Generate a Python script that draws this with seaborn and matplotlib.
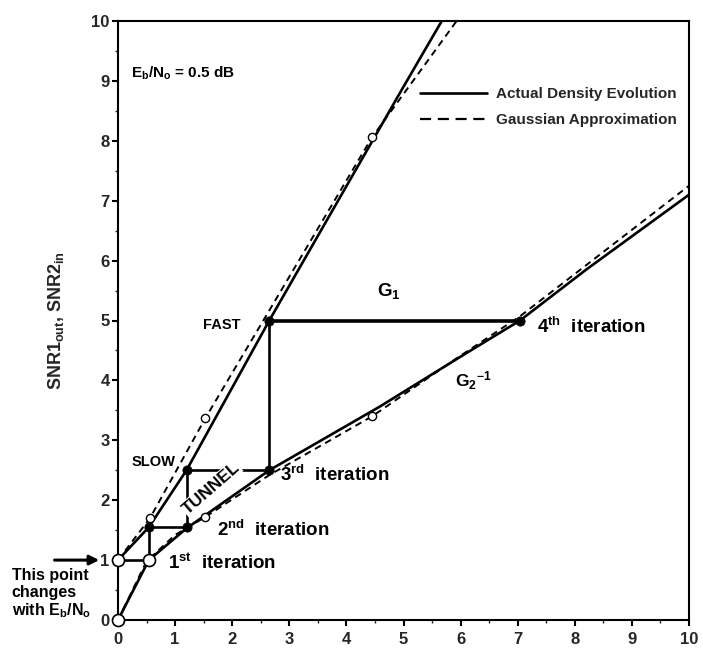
import numpy as np
import pandas as pd
import matplotlib
matplotlib.use("Agg")
import matplotlib.pyplot as plt
from matplotlib.lines import Line2D
from matplotlib.ticker import MultipleLocator
import seaborn as sns

# ---- transfer characteristics (SNR_in -> SNR_out) ----
g1_actual_x = [0.0, 0.54, 1.2, 2.65, 4.98, 5.67]
g1_actual_y = [1.0, 1.55, 2.5, 5.0, 8.87, 10.0]
g1_gauss_x = [0.0, 0.56, 1.53, 4.45, 5.93]
g1_gauss_y = [1.0, 1.7, 3.37, 8.06, 10.0]
g2inv_actual_x = [0.0, 0.54, 1.2, 2.65, 4.58, 6.04, 7.04, 8.2, 10.0]
g2inv_actual_y = [0.0, 1.0, 1.53, 2.5, 3.56, 4.42, 5.0, 5.85, 7.1]
g2inv_gauss_x = [0.0, 0.5, 1.0, 1.53, 2.65, 4.45, 5.9, 7.04, 10.0]
g2inv_gauss_y = [0.0, 0.98, 1.42, 1.72, 2.42, 3.4, 4.35, 5.07, 7.25]

# sample points marked on the Gaussian-approximation curves
gauss_mark_x = [0.56, 1.53, 4.45, 1.53, 4.45]
gauss_mark_y = [1.7, 3.37, 8.06, 1.72, 3.4]

# decoding trajectory (staircase between the two curves)
iter_x = [0.0, 0.54, 0.54, 1.2, 1.2, 2.65, 2.65, 7.04]
iter_y = [1.0, 1.0, 1.55, 1.55, 2.5, 2.5, 5.0, 5.0]
start_x = [0.0, 0.0, 0.54]
start_y = [0.0, 1.0, 1.0]
step_x = [0.54, 1.2, 1.2, 2.65, 2.65, 7.04]
step_y = [1.55, 1.55, 2.5, 2.5, 5.0, 5.0]

x_ticks = list(range(0, 11))
y_ticks = list(range(0, 11))

sns.set_theme(style="ticks")
plt.rcParams["font.family"] = ["Liberation Sans", "DejaVu Sans"]
plt.rcParams["font.weight"] = "bold"
plt.rcParams["mathtext.fontset"] = "custom"
plt.rcParams["mathtext.rm"] = "Liberation Sans:bold"
plt.rcParams["mathtext.it"] = "Liberation Sans:bold"
plt.rcParams["mathtext.bf"] = "Liberation Sans:bold"
plt.rcParams["mathtext.default"] = "bf"

curves = []
for name, method, xs, ys in [
    ("G1", "Actual", g1_actual_x, g1_actual_y),
    ("G1", "Gaussian", g1_gauss_x, g1_gauss_y),
    ("G2inv", "Actual", g2inv_actual_x, g2inv_actual_y),
    ("G2inv", "Gaussian", g2inv_gauss_x, g2inv_gauss_y),
]:
    curves.append(pd.DataFrame({"x": xs, "y": ys, "curve": name, "method": method,
                                "id": name + method}))
df = pd.concat(curves, ignore_index=True)

fig = plt.figure(figsize=(7.03, 6.49), dpi=100)
ax = fig.add_axes([118 / 703, 1 - 620 / 649, 571 / 703, 599 / 649])

sns.lineplot(data=df[df.method == "Actual"], x="x", y="y", units="id", estimator=None,
             sort=False, color="black", lw=1.9, ax=ax, legend=False)
sns.lineplot(data=df[df.method == "Gaussian"], x="x", y="y", units="id", estimator=None,
             sort=False, color="black", lw=1.4, ax=ax, legend=False)
for ln in ax.lines[-2:]:
    ln.set_dashes((3.5, 2.5))

# trajectory
ax.plot(iter_x[:-1], iter_y[:-1], color="black", lw=1.9, zorder=3)
ax.plot(iter_x[-2:], iter_y[-2:], color="black", lw=2.6, zorder=3)

sns.scatterplot(x=gauss_mark_x, y=gauss_mark_y, s=35, facecolor="white",
                edgecolor="black", linewidth=1.0, ax=ax, zorder=4)
sns.scatterplot(x=step_x, y=step_y, s=45, color="black", edgecolor="black",
                linewidth=0.5, ax=ax, zorder=5)
ax.scatter(start_x, start_y, s=75, facecolor="white", edgecolor="black",
           linewidth=1.2, zorder=6, clip_on=False)

ax.set_xlim(0, 10)
ax.set_ylim(0, 10)
ax.set_xticks(x_ticks)
ax.set_yticks(y_ticks)
ax.xaxis.set_minor_locator(MultipleLocator(0.5))
ax.yaxis.set_minor_locator(MultipleLocator(0.5))
ax.tick_params(which="major", direction="out", length=4, width=1.5,
               labelsize=12, color="black")
ax.tick_params(axis="x", which="major", pad=5)
ax.tick_params(axis="y", which="major", pad=2)
ax.tick_params(which="minor", direction="out", length=2.5, width=1.0)
for lab in ax.get_xticklabels() + ax.get_yticklabels():
    lab.set_fontweight("bold")
for sp in ax.spines.values():
    sp.set_visible(True)
    sp.set_linewidth(1.5)
    sp.set_color("black")

ax.set_xlabel("")
ax.set_ylabel(r"SNR1$_{out}$, SNR2$_{in}$", fontsize=13, fontweight="bold")
ax.yaxis.set_label_coords(-0.091, 0.5)

# legend
handles = [Line2D([], [], color="black", lw=1.9),
           Line2D([], [], color="black", lw=1.6, dashes=(5, 3))]
ax.legend(handles, ["Actual Density Evolution", "Gaussian Approximation"],
          loc="upper left", bbox_to_anchor=(0.529, 0.889), frameon=False,
          borderpad=0, borderaxespad=0, handlelength=4.4, handletextpad=0.6,
          labelspacing=0.75, prop={"weight": "bold", "size": 11})

# annotations
tk = dict(fontweight="bold", color="black")
ax.text(0.23, 9.13, r"E$_b$/N$_o$ = 0.5 dB", fontsize=11, va="center", ha="left", **tk)
ax.text(4.75, 5.5, r"G$_1$", fontsize=13.5, ha="center", va="center", **tk)
ax.text(5.9, 4.0, r"G$_2$$^{-1}$", fontsize=12.5, ha="left", va="center", **tk)
ax.text(2.14, 4.93, "FAST", fontsize=10.5, ha="right", va="center", **tk)
ax.text(1.0, 2.64, "SLOW", fontsize=10.5, ha="right", va="center", **tk)
ax.text(1.63, 2.2, "TUNNEL", fontsize=12.5, ha="center", va="center", rotation=41,
        bbox=dict(facecolor="white", edgecolor="none", pad=0.5), zorder=7, **tk)
it_fs = 13.5
ax.text(0.88, 0.95, r"1$^{st}$  iteration", fontsize=it_fs, ha="left", va="center", **tk)
ax.text(1.73, 1.5, r"2$^{nd}$  iteration", fontsize=it_fs, ha="left", va="center", **tk)
ax.text(2.84, 2.42, r"3$^{rd}$  iteration", fontsize=it_fs, ha="left", va="center", **tk)
ax.text(7.34, 4.9, r"4$^{th}$  iteration", fontsize=it_fs, ha="left", va="center", **tk)

ax.annotate("", xy=(-0.28, 1.0), xytext=(-1.16, 1.0), xycoords="data",
            arrowprops=dict(arrowstyle="-|>", color="black", lw=2.2,
                            mutation_scale=14), annotation_clip=False)
ax.text(-1.86, 0.86, "This point\nchanges\n" + r"with E$_b$/N$_o$", fontsize=11.5,
        ha="left", va="top", linespacing=1.12, clip_on=False, **tk)

fig.savefig("out.png", dpi=100)
